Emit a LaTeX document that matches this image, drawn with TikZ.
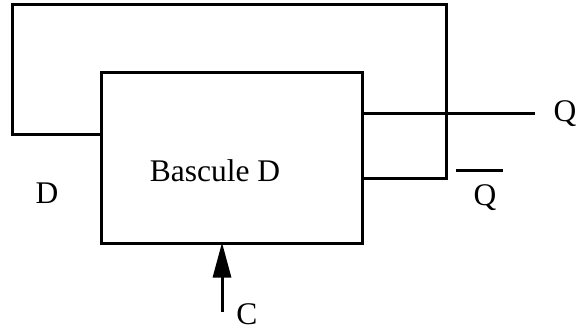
\documentclass[tikz,border=0pt]{standalone}
\usepackage{fontspec}
\setmainfont{Liberation Serif}
\usetikzlibrary{arrows.meta}
\tikzset{
  wire/.style={line width=3pt,line join=miter,line cap=butt},
  boxstyle/.style={draw,line width=3pt,minimum width=261pt,minimum height=170pt,inner sep=0pt},
  lbl/.style={inner sep=0pt,font=\fontsize{31.5}{32}\selectfont,anchor=base}
}
\begin{document}
\begin{tikzpicture}[x=1pt,y=-1pt]
\useasboundingbox (0,0) rectangle (577,331);
\fill[white] (0,0) rectangle (577,331);
\node[boxstyle] (box) at (231.5,158) {};
\coordinate (inD) at (box.west |- 0,135);
\coordinate (c1) at (12,135);
\coordinate (c2) at (12,5);
\coordinate (c3) at (446,5);
\coordinate (c4) at (446,178);
\coordinate (outNQ) at (box.east |- 0,178);
\coordinate (outQ) at (box.east |- 0,114);
\coordinate (endQ) at (535,114);
\coordinate (clk) at (222,312);
\coordinate (clkEnd) at (box.south -| clk);
\coordinate (barL) at (456,170);
\coordinate (barR) at (503,170);
\draw[wire] (inD) -- (c1) -- (c2) -- (c3) -- (c4) -- (outNQ);
\draw[wire] (outQ) -- (endQ);
\draw[wire] (barL) -- (barR);
\draw[wire,shorten >=-2pt,-{Triangle[length=35pt,width=18pt]}] (clk) -- (clkEnd);
\node[lbl] (title) at (215,181) {Bascule D};
\node[lbl] (d) at (47,203) {D};
\node[lbl] (q) at (565,122) {Q};
\node[lbl] (nq) at (485,205) {Q};
\node[lbl] (c) at (247,324) {C};
\end{tikzpicture}
\end{document}
